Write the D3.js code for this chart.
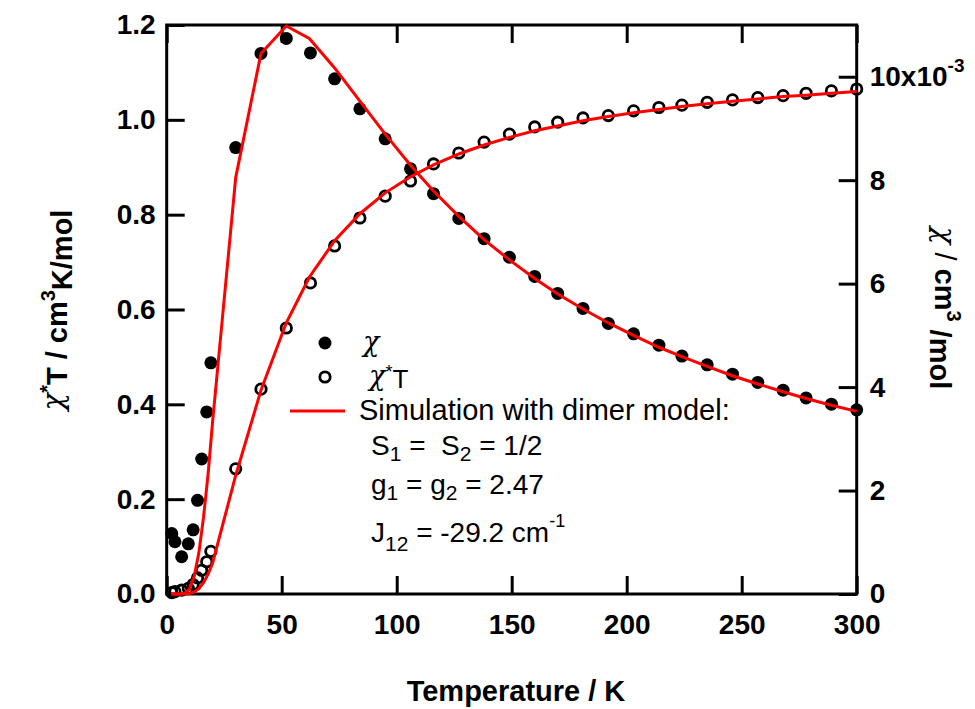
<!DOCTYPE html>
<html>
<head>
<meta charset="utf-8">
<script src="https://cdn.jsdelivr.net/npm/d3@7"></script>
<style>
    body { margin: 0; background: #fff; }
    text { font-family: "Liberation Sans", Arial, Helvetica, sans-serif; fill: #000; white-space: pre; }
    .axis text { font-size: 28px; font-weight: bold; }
    .axis line { stroke: #000; stroke-width: 3; }
    .greek { font-family: "DejaVu Serif", serif; font-style: italic; font-weight: normal; }
</style>
</head>
<body>
<div id="chart"></div>
<script>
// measured temperatures (K)
var temps = [2.2, 3.6, 6.5, 9.4, 11.5, 13.4, 15.2, 17.4, 19.2,
    30, 41, 52, 62.5, 73, 84, 95, 106, 116, 127,
    138, 149, 160, 170, 181, 192, 203, 214, 224, 235,
    246, 257, 268, 278, 289, 300];
// chi, 10^-3 cm3/mol (filled circles, right axis)
var chi = [1.17, 1.01, 0.72, 0.97, 1.24, 1.81, 2.61, 3.52, 4.47,
    8.63, 10.45, 10.74, 10.46, 9.96, 9.38, 8.80, 8.22, 7.74, 7.26,
    6.87, 6.51, 6.14, 5.81, 5.52, 5.23, 5.03, 4.81, 4.60, 4.43,
    4.25, 4.09, 3.94, 3.79, 3.67, 3.56];
// chi*T, cm3K/mol (open circles, left axis)
var chiT = [0.003, 0.005, 0.008, 0.012, 0.02, 0.034, 0.05, 0.068, 0.09,
    0.264, 0.432, 0.561, 0.656, 0.734, 0.793, 0.839, 0.871, 0.907, 0.930,
    0.953, 0.970, 0.985, 0.995, 1.004, 1.009, 1.019, 1.026, 1.031, 1.037,
    1.042, 1.047, 1.051, 1.056, 1.061, 1.065];

// dimer model simulation (red lines)
var simT = [2, 4, 6, 8, 10, 12, 14, 16, 18, 20,
    30, 41, 52, 62, 73, 84, 95, 106, 116, 127,
    138, 149, 160, 170, 181, 192, 203, 214, 224, 235,
    246, 257, 268, 278, 289, 300];
var simChi = [0, 0, 0.002, 0.016, 0.10, 0.35, 0.80, 1.48, 2.32, 3.35,
    8.05, 10.45, 10.98, 10.74, 10.17, 9.53, 8.89, 8.29, 7.79, 7.30,
    6.85, 6.46, 6.10, 5.80, 5.51, 5.24, 5.00, 4.77, 4.59, 4.40,
    4.22, 4.06, 3.91, 3.78, 3.65, 3.53];
var simChiT = [0, 0, 0, 0.0002, 0.001, 0.0042, 0.0112, 0.0237, 0.0418, 0.066,
    0.25, 0.43, 0.572, 0.668, 0.745, 0.802, 0.846, 0.880, 0.905, 0.928,
    0.947, 0.963, 0.977, 0.987, 0.998, 1.007, 1.015, 1.022, 1.028, 1.034,
    1.039, 1.044, 1.049, 1.052, 1.056, 1.060];

var xTicks = [0, 50, 100, 150, 200, 250, 300];
var leftTicks = [0, 0.2, 0.4, 0.6, 0.8, 1.0, 1.2];
var rightTicks = [0, 2, 4, 6, 8, 10];

var width = 975, height = 709;
var svg = d3.select('#chart')
    .append('svg')
    .attr('width', width)
    .attr('height', height);

var x = d3.scaleLinear().domain([0, 300]).range([166.7, 856.7]);
var yL = d3.scaleLinear().domain([0, 1.2]).range([594, 25]);
var yR = d3.scaleLinear().domain([0, 11]).range([594, 25]);

// axes, ticks pointing into the plot
svg.append('g')
    .attr('class', 'axis')
    .attr('transform', 'translate(0,594)')
    .call(d3.axisBottom(x).tickValues(xTicks).tickFormat(d3.format('d'))
        .tickSizeInner(-18).tickSizeOuter(0).tickPadding(20));
svg.append('g')
    .attr('class', 'axis')
    .attr('transform', 'translate(0,25)')
    .call(d3.axisTop(x).tickValues(xTicks).tickFormat('')
        .tickSizeInner(-18).tickSizeOuter(0));
svg.append('g')
    .attr('class', 'axis')
    .attr('transform', 'translate(166.7,0)')
    .call(d3.axisLeft(yL).tickValues(leftTicks).tickFormat(d3.format('.1f'))
        .tickSizeInner(-18).tickSizeOuter(0).tickPadding(11));
var rAxis = svg.append('g')
    .attr('class', 'axis')
    .attr('transform', 'translate(856.7,0)')
    .call(d3.axisRight(yR).tickValues(rightTicks).tickFormat(function (d) { return d === 10 ? '10x10' : d; })
        .tickSizeInner(-18).tickSizeOuter(0).tickPadding(13));
rAxis.selectAll('.tick text')
    .filter(function (d) { return d === 10; })
    .append('tspan')
    .attr('dy', '-0.75em')
    .style('font-size', '19px')
    .text('-3');
svg.selectAll('.axis .domain').remove();

// frame
svg.append('rect')
    .attr('x', 166.7).attr('y', 25)
    .attr('width', 690).attr('height', 569)
    .attr('fill', 'none')
    .attr('stroke', '#000')
    .attr('stroke-width', 3);

// data markers
var pts = temps.map(function (t, i) { return { t: t, chi: chi[i], chiT: chiT[i] }; });
svg.append('g').selectAll('circle')
    .data(pts)
    .enter().append('circle')
    .attr('cx', function (d) { return x(d.t); })
    .attr('cy', function (d) { return yR(d.chi); })
    .attr('r', 6.5)
    .attr('fill', '#000');
svg.append('g').selectAll('circle')
    .data(pts)
    .enter().append('circle')
    .attr('cx', function (d) { return x(d.t); })
    .attr('cy', function (d) { return yL(d.chiT); })
    .attr('r', 5.2)
    .attr('fill', 'none')
    .attr('stroke', '#000')
    .attr('stroke-width', 2.8);

// simulation lines
var sim = simT.map(function (t, i) { return { t: t, chi: simChi[i], chiT: simChiT[i] }; });
svg.append('path')
    .datum(sim)
    .attr('fill', 'none')
    .attr('stroke', '#ff0000')
    .attr('stroke-width', 3)
    .attr('d', d3.line().x(function (d) { return x(d.t); }).y(function (d) { return yR(d.chi); }));
svg.append('path')
    .datum(sim)
    .attr('fill', 'none')
    .attr('stroke', '#ff0000')
    .attr('stroke-width', 3)
    .attr('d', d3.line().x(function (d) { return x(d.t); }).y(function (d) { return yL(d.chiT); }));

// axis titles
svg.append('text')
    .attr('x', 516).attr('y', 701)
    .attr('text-anchor', 'middle')
    .style('font-size', '29px').style('font-weight', 'bold')
    .text('Temperature / K');

var ttl = svg.append('text')
    .attr('transform', 'translate(63,310) rotate(-90)')
    .attr('text-anchor', 'middle')
    .style('font-size', '29px').style('font-weight', 'bold');
ttl.append('tspan').attr('class', 'greek').text('χ');
ttl.append('tspan').attr('dy', '-0.45em').style('font-size', '20px').text('*');
ttl.append('tspan').attr('dy', '0.45em').text('T / cm');
ttl.append('tspan').attr('dy', '-0.6em').style('font-size', '20px').text('3');
ttl.append('tspan').attr('dy', '0.6em').text('K/mol');

var ttr = svg.append('text')
    .attr('transform', 'translate(935,308) rotate(90)')
    .attr('text-anchor', 'middle')
    .style('font-size', '29px').style('font-weight', 'bold');
ttr.append('tspan').attr('class', 'greek').text('χ');
ttr.append('tspan').style('font-weight', 'normal').text(' / ');
ttr.append('tspan').text('cm');
ttr.append('tspan').attr('dy', '-0.6em').style('font-size', '20px').text('3');
ttr.append('tspan').attr('dy', '0.6em').text(' /mol');

// legend
var leg = svg.append('g');
leg.append('circle').attr('cx', 325).attr('cy', 343).attr('r', 6.5).attr('fill', '#000');
leg.append('text').attr('class', 'greek').attr('x', 363).attr('y', 351).style('font-size', '27px').text('χ');
leg.append('circle').attr('cx', 325).attr('cy', 377).attr('r', 5.2)
    .attr('fill', 'none').attr('stroke', '#000').attr('stroke-width', 2.8);
var lt = leg.append('text').attr('x', 369).attr('y', 385).style('font-size', '26px');
lt.append('tspan').attr('class', 'greek').style('font-size', '27px').text('χ');
lt.append('tspan').attr('dy', '-0.4em').style('font-size', '18px').text('*');
lt.append('tspan').attr('dy', '0.4em').text('T');
leg.append('line').attr('x1', 290).attr('x2', 345).attr('y1', 411).attr('y2', 411)
    .attr('stroke', '#ff0000').attr('stroke-width', 3);
leg.append('text').attr('x', 359).attr('y', 420).style('font-size', '29px')
    .text('Simulation with dimer model:');

var l1 = leg.append('text').attr('x', 371).attr('y', 455).style('font-size', '28px');
l1.append('tspan').text('S');
l1.append('tspan').attr('dy', 6).style('font-size', '21px').text('1');
l1.append('tspan').attr('dy', -6).text(' =  S');
l1.append('tspan').attr('dy', 6).style('font-size', '21px').text('2');
l1.append('tspan').attr('dy', -6).text(' = 1/2');

var l2 = leg.append('text').attr('x', 371).attr('y', 494).style('font-size', '28px');
l2.append('tspan').text('g');
l2.append('tspan').attr('dy', 6).style('font-size', '21px').text('1');
l2.append('tspan').attr('dy', -6).text(' = g');
l2.append('tspan').attr('dy', 6).style('font-size', '21px').text('2');
l2.append('tspan').attr('dy', -6).text(' = 2.47');

var l3 = leg.append('text').attr('x', 371).attr('y', 542).style('font-size', '28px');
l3.append('tspan').text('J');
l3.append('tspan').attr('dy', 9).style('font-size', '21px').text('12');
l3.append('tspan').attr('dy', -9).text(' = -29.2 cm');
l3.append('tspan').attr('dy', -15).style('font-size', '18px').text('-1');
</script>
</body>
</html>
